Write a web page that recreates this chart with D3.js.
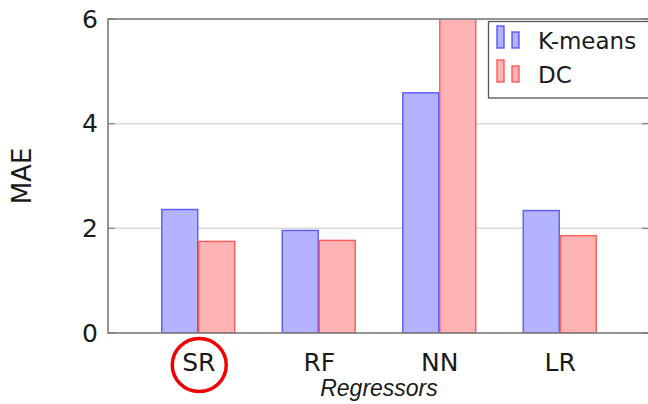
<!DOCTYPE html>
<html><head><meta charset="utf-8">
<script src="https://cdn.jsdelivr.net/npm/d3@7"></script>
<style>html,body{margin:0;padding:0;background:#fff;}svg{display:block;font-family:"DejaVu Sans",sans-serif;}</style>
</head><body>
<script>
const categories = ["SR", "RF", "NN", "LR"];
const seriesNames = ["K-means", "DC"];
const kmeans = [2.36, 1.96, 4.59, 2.34];
const dc = [1.75, 1.77, 6.4, 1.86];
const yTicks = [0, 2, 4, 6];

const W = 648, H = 404;
const L = 108, R = 650, T = 19, B = 333;
const svg = d3.select("body").append("svg").attr("width", W).attr("height", H);

const x = d3.scalePoint().domain(categories).range([L, R]).padding(0.749);
const y = d3.scaleLinear().domain([0, 6]).range([B, T]);
const bw = 36;

svg.append("defs").append("clipPath").attr("id", "clip")
  .append("rect").attr("x", L).attr("y", T).attr("width", R - L).attr("height", B - T);

// grid
svg.append("g").selectAll("line").data(yTicks.filter(d => d > 0 && d < 6)).join("line")
  .attr("x1", L).attr("x2", R).attr("y1", d => y(d)).attr("y2", d => y(d))
  .attr("stroke", "#dcdcdc").attr("stroke-width", 1.5);

const colors = [{fill: "#b3b3ff", stroke: "#4d4dff"}, {fill: "#ffb3b3", stroke: "#ff4d4d"}];
const series = [kmeans, dc];
const bars = svg.append("g").attr("clip-path", "url(#clip)");
series.forEach((vals, si) => {
  bars.append("g").selectAll("rect").data(categories).join("rect")
    .attr("x", (c) => x(c) - bw + si * bw + (si === 1 ? 0.5 : -0.5))
    .attr("y", (c, i) => y(vals[i]))
    .attr("width", bw)
    .attr("height", (c, i) => B - y(vals[i]))
    .attr("fill", colors[si].fill)
    .attr("stroke", colors[si].stroke)
    .attr("stroke-width", 1.4)
    .attr("stroke-opacity", 0.9);
});

// ticks inward
const tk = svg.append("g").attr("stroke", "#888").attr("stroke-width", 1.3);
yTicks.forEach(t => {
  tk.append("line").attr("x1", L).attr("x2", L + 7).attr("y1", y(t)).attr("y2", y(t));
  tk.append("line").attr("x1", R).attr("x2", R - 8).attr("y1", y(t)).attr("y2", y(t));
});

// frame
svg.append("rect").attr("x", L).attr("y", T).attr("width", R - L).attr("height", B - T)
  .attr("fill", "none").attr("stroke", "#7a7a7a").attr("stroke-width", 1.6);

// y axis labels
const yAxis = d3.axisLeft(y).tickValues(yTicks).tickSize(0).tickPadding(10).tickFormat(d3.format("d"));
const ya = svg.append("g").attr("transform", `translate(${L},0)`).call(yAxis);
ya.select(".domain").remove();
ya.selectAll("text").attr("font-size", 25).attr("fill", "#1a1a1a").attr("font-family", "DejaVu Sans");

// x axis labels
const xAxis = d3.axisBottom(x).tickSize(0).tickPadding(20);
const xa = svg.append("g").attr("transform", `translate(0,${B})`).call(xAxis);
xa.select(".domain").remove();
xa.selectAll("text").attr("font-size", 25).attr("fill", "#1a1a1a").attr("font-family", "DejaVu Sans");

svg.append("text").attr("x", (L + R) / 2).attr("y", 396).attr("text-anchor", "middle")
  .attr("font-family", "Liberation Sans").attr("font-size", 23).attr("font-style", "italic")
  .attr("fill", "#1a1a1a").text("Regressors");

svg.append("text").attr("transform", `translate(31,${(T + B) / 2}) rotate(-90)`)
  .attr("text-anchor", "middle").attr("font-size", 26).attr("fill", "#1a1a1a").text("MAE");

// red circle around SR
svg.append("ellipse").attr("cx", x("SR") + 1).attr("cy", 365).attr("rx", 27).attr("ry", 26.5)
  .attr("fill", "none").attr("stroke", "#f00000").attr("stroke-width", 3.5);

// legend
const lg = svg.append("g");
lg.append("rect").attr("x", 488.5).attr("y", 21.5).attr("width", 170).attr("height", 76.5)
  .attr("fill", "#fff").attr("stroke", "#555").attr("stroke-width", 1.3);
seriesNames.forEach((name, i) => {
  const yb = 48 + i * 34;
  lg.append("rect").attr("x", 497).attr("y", yb - 22).attr("width", 7).attr("height", 22)
    .attr("fill", colors[i].fill).attr("stroke", colors[i].stroke).attr("stroke-width", 1.3);
  lg.append("rect").attr("x", 512).attr("y", yb - 16).attr("width", 7).attr("height", 16)
    .attr("fill", colors[i].fill).attr("stroke", colors[i].stroke).attr("stroke-width", 1.3);
  lg.append("text").attr("x", 538).attr("y", yb + 1).attr("font-size", 23).attr("fill", "#1a1a1a").text(name);
});
</script>
</body></html>
